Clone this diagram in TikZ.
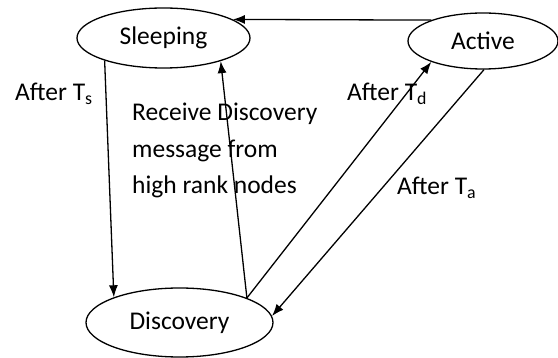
\documentclass[tikz,border=0pt]{standalone}
\usepackage{fontspec}
\setmainfont{Carlito}
\usetikzlibrary{shapes.geometric,arrows.meta}
\begin{document}
\begin{tikzpicture}[x=1pt,y=-1pt,
  state/.style={draw,ellipse,line width=1.3pt,inner sep=0pt,
    font=\fontsize{25.5}{30}\selectfont},
  lbl/.style={inner sep=0pt,anchor=base west,font=\fontsize{25.5}{30}\selectfont},
  trans/.style={line width=1.3pt,-{Latex[length=12pt,width=9pt]}}]
  \useasboundingbox (0,0) rectangle (558,358);
  % states
  \node[state,minimum width=173pt,minimum height=60pt] (sleep) at (163.5,38) {Sleeping};
  \node[state,minimum width=150pt,minimum height=56pt] (active) at (483,41) {Active};
  \node[state,minimum width=187pt,minimum height=69pt] (disc) at (179.5,322.5) {Discovery};
  % transitions
  \draw[trans] (active.158.7) -- (sleep.15.3);
  \draw[trans] (sleep.201.6) -- (disc.159);
  \draw[trans] (disc.20) -- (sleep.338.5);
  \draw[trans] (disc.20) -- (active.202);
  \draw[trans] (active.272) -- (disc.4.4);
  % labels
  \node[lbl] (lts) at (15,101) {After T\textsubscript{s}};
  \node[lbl] (ltd) at (347,101) {After T\textsubscript{d}};
  \node[lbl] (lta) at (397,195) {After T\textsubscript{a}};
  \node[inner sep=0pt,anchor=north west,align=left,
    font=\fontsize{25.5}{36.5}\selectfont] (recv) at (132,103)
    {Receive Discovery\\message from\\high rank nodes};
\end{tikzpicture}
\end{document}
